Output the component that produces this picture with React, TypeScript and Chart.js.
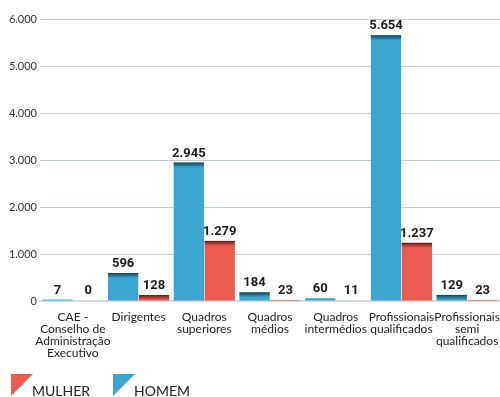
import React, { useEffect, useRef } from "react";
import { Chart, registerables } from "chart.js";

Chart.register(...registerables);

const categories: string[][] = [
  ["CAE -", "Conselho de", "Administração", "Executivo"],
  ["Dirigentes"],
  ["Quadros", "superiores"],
  ["Quadros", "médios"],
  ["Quadros", "intermédios"],
  ["Profissionais", "qualificados"],
  ["Profissionais", "semi", "qualificados"],
];
const homemValues = [7, 596, 2945, 184, 60, 5654, 129];
const mulherValues = [0, 128, 1279, 23, 11, 1237, 23];
const seriesNames = ["HOMEM", "MULHER"];
const legendOrder = ["MULHER", "HOMEM"];
const yMax = 6000;
const yStep = 1000;

const BLUE = "#3ba6d1";
const RED = "#ec5a50";
const BLUE_DARK = "#16414f";
const RED_DARK = "#5e1f1a";

const fmt = (v: number) => String(Math.round(v)).replace(/\B(?=(\d{3})+(?!\d))/g, ".");

const topShade = {
  id: "topShade",
  afterDatasetsDraw(chart: any) {
    const ctx = chart.ctx;
    chart.data.datasets.forEach((ds: any, di: number) => {
      const meta = chart.getDatasetMeta(di);
      const dark = di === 0 ? BLUE_DARK : RED_DARK;
      meta.data.forEach((el: any, i: number) => {
        const { x, y, base, width } = el.getProps(["x", "y", "base", "width"], true);
        const left = x - width / 2;
        const h = Math.min(5, base - y);
        if (base - y > 3) {
          const g = ctx.createLinearGradient(0, y, 0, y + 5);
          g.addColorStop(0, dark);
          g.addColorStop(1, dark + "00");
          ctx.save();
          ctx.fillStyle = g;
          ctx.fillRect(left, y, width, h);
          ctx.restore();
        }
        ctx.save();
        ctx.fillStyle = "#1a1a1a";
        ctx.font = "bold 13px Roboto";
        ctx.textAlign = "center";
        ctx.textBaseline = "alphabetic";
        ctx.fillText(fmt(ds.data[i]), x, Math.min(y, base - 1) - 6);
        ctx.restore();
      });
    });
  },
};

const customLegend = {
  id: "customLegend",
  afterDraw(chart: any) {
    const ctx = chart.ctx;
    const items = [
      { label: legendOrder[0], color: RED, x: 11 },
      { label: legendOrder[1], color: BLUE, x: 113 },
    ];
    items.forEach((it) => {
      ctx.save();
      ctx.fillStyle = it.color;
      ctx.beginPath();
      ctx.moveTo(it.x, 374);
      ctx.lineTo(it.x + 22, 374);
      ctx.lineTo(it.x, 396);
      ctx.closePath();
      ctx.fill();
      ctx.fillStyle = "#222";
      ctx.font = "14px Lato";
      ctx.textAlign = "left";
      ctx.textBaseline = "alphabetic";
      ctx.fillText(it.label, it.x + 21, 396);
      ctx.restore();
    });
  },
};

export default function App() {
  const ref = useRef<HTMLCanvasElement>(null);
  useEffect(() => {
    document.body.style.margin = "0";
    const chart = new Chart(ref.current!, {
      type: "bar",
      data: {
        labels: categories,
        datasets: [
          { label: seriesNames[0], data: homemValues, backgroundColor: BLUE, minBarLength: 1.5 },
          { label: seriesNames[1], data: mulherValues, backgroundColor: RED },
        ],
      },
      plugins: [topShade, customLegend],
      options: {
        animation: false,
        responsive: true,
        maintainAspectRatio: false,
        layout: { padding: { top: 19, left: 0, right: 0, bottom: 0 } },
        plugins: { legend: { display: false }, tooltip: { enabled: false } },
        datasets: { bar: { categoryPercentage: 0.94, barPercentage: 0.98 } },
        scales: {
          x: {
            grid: { display: false, drawTicks: false },
            border: { display: true, color: "#d3d7db", width: 2 },
            ticks: {
              autoSkip: false,
              maxRotation: 0,
              minRotation: 0,
              padding: 10,
              color: "#222",
              font: { family: "Lato", size: 12, lineHeight: 1.0 },
            },
            afterFit(scale: any) {
              scale.height = 96;
              scale.paddingLeft = 0;
              scale.paddingRight = 0;
            },
          },
          y: {
            min: 0,
            max: yMax,
            grid: { color: "#c3cad3", lineWidth: 1, drawTicks: false },
            border: { display: false },
            ticks: {
              stepSize: yStep,
              padding: 3,
              color: "#333",
              font: { family: "Lato", size: 11 },
              callback: (v: any) => fmt(Number(v)),
            },
            afterFit(scale: any) {
              scale.width = 40;
              scale.paddingTop = 0;
              scale.paddingBottom = 0;
            },
          },
        },
      },
    } as any);
    return () => chart.destroy();
  }, []);
  return (
    <div style={{ width: 500, height: 397, position: "relative" }}>
      <canvas ref={ref} />
    </div>
  );
}
